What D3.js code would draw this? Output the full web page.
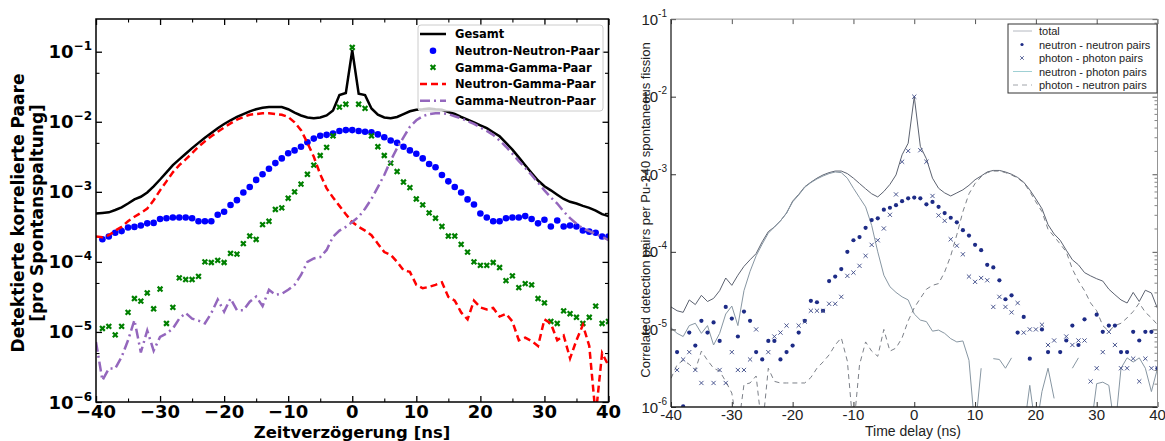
<!DOCTYPE html>
<html>
<head>
<meta charset="utf-8">
<script src="https://cdn.jsdelivr.net/npm/d3@7"></script>
<style>
  body { margin: 0; background: #fff; }
  svg { display: block; }
</style>
</head>
<body>
<svg id="chart" width="1165" height="441"></svg>
<script>
// Zeitverzoegerung in ns, ein Wert pro ns
var zeit = [-40,-39,-38,-37,-36,-35,-34,-33,-32,-31,-30,-29,-28,-27,-26,-25,-24,-23,-22,-21,
            -20,-19,-18,-17,-16,-15,-14,-13,-12,-11,-10,-9,-8,-7,-6,-5,-4,-3,-2,-1,0,
            1,2,3,4,5,6,7,8,9,10,11,12,13,14,15,16,17,18,19,20,
            21,22,23,24,25,26,27,28,29,30,31,32,33,34,35,36,37,38,39,40];

/*  L I N K E   G R A F I K  (pro Spontanspaltung)  */
var gesamt = [4.9e-4,5.0e-4,5.1e-4,5.5e-4,6.0e-4,6.8e-4,7.8e-4,8.5e-4,9.8e-4,1.2e-3,
  1.5e-3,1.9e-3,2.4e-3,2.9e-3,3.5e-3,4.2e-3,5.0e-3,5.9e-3,6.9e-3,8.1e-3,
  9.3e-3,1.05e-2,1.17e-2,1.29e-2,1.41e-2,1.51e-2,1.58e-2,1.62e-2,1.62e-2,1.62e-2,
  1.51e-2,1.35e-2,1.23e-2,1.15e-2,1.12e-2,1.15e-2,1.23e-2,1.45e-2,2.4e-2,2.57e-2,
  1.05e-1,
  2.51e-2,2.4e-2,1.55e-2,1.26e-2,1.15e-2,1.12e-2,1.17e-2,1.29e-2,1.41e-2,1.48e-2,
  1.51e-2,1.55e-2,1.51e-2,1.48e-2,1.38e-2,1.29e-2,1.17e-2,1.07e-2,9.8e-3,8.9e-3,
  8.1e-3,7.1e-3,6.2e-3,5.0e-3,4.0e-3,3.1e-3,2.4e-3,1.86e-3,1.45e-3,1.2e-3,
  1.05e-3,9.1e-4,7.9e-4,7.2e-4,6.8e-4,6.3e-4,5.9e-4,5.4e-4,4.8e-4,4.5e-4];

var nnPaar = [null,2.1e-4,2.3e-4,2.6e-4,2.75e-4,3.1e-4,3.16e-4,3.3e-4,3.55e-4,3.6e-4,
  4.1e-4,4.2e-4,4.3e-4,4.3e-4,4.3e-4,4.2e-4,3.8e-4,3.8e-4,3.8e-4,4.7e-4,
  5.2e-4,6.5e-4,7.6e-4,9.8e-4,1.17e-3,1.48e-3,1.78e-3,2.14e-3,2.57e-3,3.0e-3,
  3.55e-3,3.9e-3,4.4e-3,5.1e-3,5.75e-3,6.3e-3,6.5e-3,6.8e-3,7.4e-3,7.6e-3,
  7.6e-3,
  7.4e-3,7.2e-3,7.1e-3,6.6e-3,6.0e-3,5.4e-3,5.0e-3,4.4e-3,3.9e-3,3.5e-3,
  3.0e-3,2.5e-3,2.24e-3,1.74e-3,1.41e-3,1.17e-3,9.8e-4,7.8e-4,6.6e-4,4.9e-4,
  4.3e-4,3.8e-4,3.8e-4,4.2e-4,4.3e-4,4.3e-4,4.5e-4,4.1e-4,3.55e-4,4.0e-4,
  3.2e-4,3.9e-4,3.2e-4,3.3e-4,3.2e-4,2.8e-4,2.7e-4,2.6e-4,2.3e-4,2.3e-4];

var ggPaar = [null,1.12e-5,1.2e-5,9.1e-6,1.2e-5,1.9e-5,3.0e-5,2.75e-5,3.6e-5,2.14e-5,
  4.1e-5,1.32e-5,2.24e-5,5.9e-5,5.6e-5,5.6e-5,6.2e-5,1.0e-4,9.8e-5,1.05e-4,
  9.8e-5,1.32e-4,1.29e-4,1.82e-4,2.34e-4,2.09e-4,3.4e-4,3.8e-4,5.6e-4,5.9e-4,
  8.1e-4,1.0e-3,1.29e-3,1.78e-3,2.4e-3,3.3e-3,4.3e-3,6.3e-3,1.62e-2,1.78e-2,
  1.15e-1,
  1.78e-2,1.55e-2,6.3e-3,4.4e-3,3.3e-3,2.57e-3,1.95e-3,1.38e-3,1.15e-3,7.9e-4,
  6.5e-4,5.0e-4,4.2e-4,3.2e-4,2.34e-4,2.34e-4,1.78e-4,1.38e-4,1.0e-4,8.9e-5,
  8.9e-5,9.8e-5,8.3e-5,5.4e-5,6.3e-5,4.3e-5,4.9e-5,4.7e-5,3.0e-5,2.6e-5,
  1.41e-5,1.32e-5,2.0e-5,1.82e-5,1.62e-5,1.32e-5,1.62e-5,2.34e-5,1.32e-5,1.41e-5];

var ngPaar = [2.3e-4,2.24e-4,2.4e-4,2.8e-4,3.16e-4,3.8e-4,4.4e-4,5.0e-4,5.75e-4,7.6e-4,
  1.05e-3,1.41e-3,1.9e-3,2.4e-3,2.9e-3,3.55e-3,4.4e-3,5.25e-3,6.2e-3,7.2e-3,
  8.3e-3,9.5e-3,1.07e-2,1.17e-2,1.26e-2,1.29e-2,1.32e-2,1.32e-2,1.29e-2,1.26e-2,
  1.17e-2,9.8e-3,7.6e-3,5.0e-3,3.16e-3,1.78e-3,1.12e-3,8.3e-4,6.3e-4,4.8e-4,
  3.7e-4,
  3.16e-4,2.8e-4,2.4e-4,1.82e-4,1.38e-4,1.26e-4,1.0e-4,7.6e-5,7.2e-5,4.7e-5,
  4.2e-5,4.4e-5,4.7e-5,5.1e-5,3.16e-5,2.8e-5,1.9e-5,1.51e-5,2.8e-5,2.24e-5,
  2.1e-5,2.2e-5,1.66e-5,1.82e-5,1.41e-5,7.6e-6,8.3e-6,7.4e-6,6.3e-6,1.51e-5,
  1.32e-5,7.6e-6,8.9e-6,4.2e-6,7.6e-6,1.26e-5,6.3e-6,6.3e-7,5.0e-6,3.3e-6];

var gnPaar = [7.2e-6,2.04e-6,3.0e-6,3.0e-6,4.4e-6,7.6e-6,1.48e-5,5.1e-6,1.05e-5,5.4e-6,
  8.5e-6,9.5e-6,1.12e-5,1.55e-5,1.86e-5,1.55e-5,1.45e-5,1.32e-5,1.86e-5,2.9e-5,
  1.95e-5,3.0e-5,2.04e-5,2.04e-5,2.7e-5,3.2e-5,2.34e-5,4.0e-5,3.4e-5,3.5e-5,
  4.0e-5,4.7e-5,6.5e-5,1.0e-4,1.12e-4,1.17e-4,1.48e-4,2.29e-4,2.8e-4,3.16e-4,
  3.7e-4,
  4.4e-4,5.75e-4,7.9e-4,1.17e-3,1.74e-3,2.8e-3,4.2e-3,6.0e-3,8.5e-3,1.05e-2,
  1.2e-2,1.29e-2,1.32e-2,1.32e-2,1.29e-2,1.2e-2,1.12e-2,1.02e-2,9.3e-3,8.3e-3,
  7.4e-3,6.5e-3,5.4e-3,4.4e-3,3.5e-3,2.75e-3,2.19e-3,1.74e-3,1.35e-3,1.05e-3,
  8.3e-4,6.8e-4,5.25e-4,4.2e-4,3.5e-4,3.0e-4,2.75e-4,2.5e-4,2.29e-4,2.04e-4];

/*  R E C H T E   G R A F I K  (Scan, Pu-240)  */
var total = [1.95e-5,1.74e-5,1.66e-5,2.4e-5,2.09e-5,2.75e-5,2.29e-5,2.51e-5,3.16e-5,4.6e-5,
  3.7e-5,5.0e-5,6.5e-5,7.9e-5,9.5e-5,1.35e-4,1.82e-4,2.09e-4,2.51e-4,3.16e-4,
  4.5e-4,5.5e-4,6.9e-4,7.9e-4,8.9e-4,9.8e-4,1.05e-3,1.1e-3,1.1e-3,1.02e-3,
  8.9e-4,7.6e-4,6.5e-4,5.6e-4,5.1e-4,6.0e-4,7.4e-4,9.8e-4,1.78e-3,2.51e-3,
  1.0e-2,
  2.29e-3,1.58e-3,8.9e-4,6.6e-4,5.75e-4,5.25e-4,5.75e-4,6.3e-4,7.2e-4,8.5e-4,
  9.5e-4,1.07e-3,1.12e-3,1.12e-3,1.07e-3,1.0e-3,9.1e-4,7.9e-4,6.3e-4,4.8e-4,
  3.6e-4,2.24e-4,1.7e-4,1.41e-4,1.05e-4,7.9e-5,6.8e-5,5.4e-5,4.9e-5,4.5e-5,
  4.2e-5,3.3e-5,2.8e-5,2.4e-5,2.19e-5,3.0e-5,2.29e-5,3.2e-5,2.95e-5,1.86e-5];

var nnPairs = [null,5.1e-6,1.02e-6,9.1e-6,6.2e-6,1.29e-5,9.1e-6,1.23e-5,7.1e-6,1.95e-5,
  1.38e-5,8.1e-6,1.7e-5,1.29e-5,5.1e-6,4.1e-6,7.1e-6,7.1e-6,4.1e-6,5.1e-6,
  6.2e-6,9.1e-6,1.29e-5,2.34e-5,2.24e-5,1.74e-5,4.2e-5,4.8e-5,6.0e-5,1.0e-4,
  1.41e-4,1.55e-4,2.04e-4,2.57e-4,2.7e-4,3.5e-4,3.7e-4,4.0e-4,4.5e-4,4.9e-4,
  5.0e-4,
  4.9e-4,4.1e-4,4.4e-4,3.8e-4,3.16e-4,2.75e-4,2.4e-4,1.9e-4,1.62e-4,1.23e-4,
  1.05e-4,6.8e-5,6.3e-5,4.3e-5,2.45e-5,2.75e-5,9.1e-6,1.45e-5,4.2e-6,null,
  1.0e-5,5.1e-6,null,5.1e-6,7.2e-6,1.12e-5,6.3e-6,1.35e-5,null,1.55e-5,
  9.3e-6,1.12e-5,1.12e-5,5.1e-6,5.1e-6,9.3e-6,7.2e-6,9.3e-6,9.3e-6,3.16e-6];

var ppPairs = [null,3.0e-6,4.1e-6,5.1e-6,3.0e-6,2.04e-6,null,2.04e-6,3.0e-6,2.04e-6,
  5.1e-6,3.0e-6,3.0e-6,4.1e-6,1.0e-5,null,5.1e-6,8.1e-6,9.1e-6,1.12e-5,
  null,1.12e-5,1.26e-5,1.74e-5,1.74e-5,1.74e-5,2.14e-5,2.14e-5,2.63e-5,4.9e-5,
  5.4e-5,6.6e-5,8.9e-5,1.23e-4,1.41e-4,2.0e-4,3.0e-4,5.5e-4,1.45e-3,2.0e-3,
  1.0e-2,
  2.04e-3,1.45e-3,5.25e-4,2.95e-4,2.51e-4,1.45e-4,1.2e-4,9.3e-5,4.8e-5,4.1e-5,
  4.6e-5,4.3e-5,1.95e-5,2.63e-5,1.95e-5,1.66e-5,2.19e-5,9.1e-6,1.0e-5,1.0e-5,
  1.15e-5,6.3e-6,7.2e-6,null,8.1e-6,6.3e-6,7.2e-6,7.2e-6,2.14e-6,3.16e-6,
  5.1e-6,9.3e-6,6.3e-6,3.16e-6,3.16e-6,4.2e-6,2.14e-6,4.2e-6,3.16e-6,3.16e-6];

var npPairs = [1.05e-5,8.9e-6,8.1e-6,1.12e-5,1.2e-5,8.9e-6,1.12e-5,6.3e-6,8.9e-6,1.58e-5,
  2.0e-5,1.12e-5,3.16e-5,5.6e-5,8.9e-5,1.26e-4,1.74e-4,2.09e-4,2.51e-4,3.16e-4,
  4.4e-4,5.4e-4,6.8e-4,7.8e-4,8.7e-4,9.5e-4,1.02e-3,1.07e-3,1.05e-3,8.9e-4,
  6.6e-4,5.0e-4,3.8e-4,2.19e-4,1.0e-4,5.0e-5,3.55e-5,3.0e-5,2.63e-5,2.4e-5,
  1.58e-5,
  1.32e-5,1.26e-5,9.5e-6,9.8e-6,8.9e-6,7.6e-6,6.9e-6,7.1e-6,4.0e-6,5.0e-7,
  3.16e-6,null,4.2e-6,4.1e-6,3.16e-6,4.3e-6,null,5.0e-7,1.9e-6,5.0e-7,
  1.58e-6,3.16e-6,1.29e-6,null,null,3.16e-6,4.3e-6,null,5.0e-7,2.0e-6,
  2.09e-6,1.9e-6,5.0e-7,3.16e-6,4.3e-6,3.8e-6,4.3e-6,3.16e-6,1.58e-6,3.16e-6];

var pnPairs = [2.34e-6,3.5e-6,4.0e-6,3.55e-6,3.0e-6,5.25e-6,4.0e-6,3.16e-6,2.9e-6,2.14e-6,
  1.51e-6,5.0e-7,1.95e-6,2.04e-6,2.51e-6,5.0e-7,3.16e-6,2.14e-6,2.04e-6,2.04e-6,
  2.04e-6,2.04e-6,2.04e-6,2.4e-6,3.16e-6,3.8e-6,4.7e-6,6.3e-6,7.8e-6,3.9e-6,
  5.0e-7,3.5e-6,6.9e-6,5.25e-6,4.5e-6,1.0e-5,5.25e-6,5.75e-6,7.8e-6,1.29e-5,
  1.9e-5,
  2.51e-5,3.3e-5,3.7e-5,3.9e-5,5.5e-5,8.9e-5,1.66e-4,3.3e-4,5.6e-4,7.6e-4,
  9.3e-4,1.05e-3,1.1e-3,1.1e-3,1.05e-3,9.8e-4,8.9e-4,7.8e-4,6.0e-4,4.4e-4,
  3.3e-4,1.95e-4,1.58e-4,1.26e-4,1.0e-4,6.0e-5,4.2e-5,3.16e-5,2.19e-5,1.74e-5,
  1.12e-5,9.5e-6,1.12e-5,1.2e-5,1.41e-5,1.7e-5,2.19e-5,1.66e-5,1.41e-5,1.15e-5];

// Achsen
var xTicks = [-40,-30,-20,-10,0,10,20,30,40];
var xMinor = [-35,-25,-15,-5,5,15,25,35];
var yTicks = [1e-1,1e-2,1e-3,1e-4,1e-5,1e-6];
var yMinorL = [5e-2,5e-3,5e-4,5e-5,5e-6];
var yExpL = ['\u22121','\u22122','\u22123','\u22124','\u22125','\u22126'];
var yExpR = ['-1','-2','-3','-4','-5','-6'];
var legendL = ['Gesamt','Neutron-Neutron-Paar','Gamma-Gamma-Paar','Neutron-Gamma-Paar','Gamma-Neutron-Paar'];
var legendR = ['total','neutron - neutron pairs','photon - photon pairs','neutron - photon pairs','photon - neutron pairs'];

var svg = d3.select('#chart');
var boldFont = '"DejaVu Sans", sans-serif';
var scanFont = '"Liberation Sans", Arial, sans-serif';

// ticks nach innen, ohne Beschriftung (die kommt extra)
function tickGroup(parent, axis, tx, ty, vals, size, color, width) {
  var g = parent.append('g')
      .attr('transform', 'translate(' + tx + ',' + ty + ')')
      .call(axis.tickValues(vals).tickSize(size).tickSizeOuter(0).tickFormat(''));
  g.select('.domain').remove();
  g.selectAll('.tick text').remove();
  g.selectAll('.tick line').attr('stroke', color).attr('stroke-width', width);
  return g;
}

function xMark(s) {
  return 'M' + (-s) + ',' + (-s) + 'L' + s + ',' + s + 'M' + (-s) + ',' + s + 'L' + s + ',' + (-s);
}

/**  L I N K S  */
var L = { left: 96, right: 608.5, top: 19, bottom: 402 };
var xL = d3.scaleLinear().domain([-40, 40]).range([L.left, L.right]);
var yL = d3.scaleLog().domain([1e-6, 0.293]).range([L.bottom, L.top]);

svg.append('clipPath').attr('id', 'clipL')
  .append('rect').attr('x', L.left).attr('y', L.top)
  .attr('width', L.right - L.left).attr('height', L.bottom - L.top);

var lineL = d3.line()
  .defined(function(d) { return d != null; })
  .x(function(d, i) { return xL(zeit[i]); })
  .y(function(d) { return yL(d); });

var plotL = svg.append('g').attr('clip-path', 'url(#clipL)');

plotL.append('path').attr('d', lineL(gesamt))
  .attr('fill', 'none').attr('stroke', '#000').attr('stroke-width', 2.5);

nnPaar.forEach(function(d, i) {
  if (d == null) return;
  plotL.append('circle').attr('cx', xL(zeit[i])).attr('cy', yL(d))
    .attr('r', 3.3).attr('fill', '#0000ff');
});

ggPaar.forEach(function(d, i) {
  if (d == null) return;
  plotL.append('path').attr('d', xMark(2.4))
    .attr('transform', 'translate(' + xL(zeit[i]) + ',' + yL(d) + ')')
    .attr('stroke', '#008000').attr('stroke-width', 2.2).attr('fill', 'none');
});

plotL.append('path').attr('d', lineL(ngPaar))
  .attr('fill', 'none').attr('stroke', '#ff0000').attr('stroke-width', 2.5)
  .attr('stroke-dasharray', '7,4');

plotL.append('path').attr('d', lineL(gnPaar))
  .attr('fill', 'none').attr('stroke', '#9467bd').attr('stroke-width', 2.5)
  .attr('stroke-dasharray', '10,4,2,4');

var axL = svg.append('g');
tickGroup(axL, d3.axisBottom(xL), 0, L.bottom, xTicks, -6, '#000', 1.3);
tickGroup(axL, d3.axisBottom(xL), 0, L.bottom, xMinor, -3.5, '#000', 1.1);
tickGroup(axL, d3.axisTop(xL), 0, L.top, xTicks, -6, '#000', 1.3);
tickGroup(axL, d3.axisTop(xL), 0, L.top, xMinor, -3.5, '#000', 1.1);
tickGroup(axL, d3.axisLeft(yL), L.left, 0, yTicks, -6, '#000', 1.3);
tickGroup(axL, d3.axisLeft(yL), L.left, 0, yMinorL, -3.5, '#000', 1.1);
tickGroup(axL, d3.axisRight(yL), L.right, 0, yTicks, -6, '#000', 1.3);
tickGroup(axL, d3.axisRight(yL), L.right, 0, yMinorL, -3.5, '#000', 1.1);

svg.append('rect').attr('x', L.left).attr('y', L.top)
  .attr('width', L.right - L.left).attr('height', L.bottom - L.top)
  .attr('fill', 'none').attr('stroke', '#000').attr('stroke-width', 1.5);

svg.selectAll('.xlabL').data(xTicks).enter().append('text')
  .attr('x', function(d) { return xL(d); }).attr('y', 417.5)
  .attr('text-anchor', 'middle')
  .style('font-family', boldFont).style('font-weight', 'bold').style('font-size', '18px')
  .text(function(d) { return d < 0 ? '\u2212' + Math.abs(d) : d; });

svg.selectAll('.ylabL').data(yTicks).enter().append('text')
  .attr('x', 92).attr('y', function(d) { return yL(d) + 6.5; })
  .attr('text-anchor', 'end')
  .style('font-family', boldFont).style('font-weight', 'bold').style('font-size', '18px')
  .each(function(d, i) {
    var t = d3.select(this);
    t.append('tspan').text('10');
    t.append('tspan').attr('dy', -8).style('font-size', '12px').text(yExpL[i]);
  });

svg.append('text').attr('x', 352).attr('y', 437.5).attr('text-anchor', 'middle')
  .style('font-family', boldFont).style('font-weight', 'bold').style('font-size', '16.5px')
  .text('Zeitverzögerung [ns]');

svg.append('text').attr('transform', 'translate(24,213) rotate(-90)').attr('text-anchor', 'middle')
  .style('font-family', boldFont).style('font-weight', 'bold').style('font-size', '17px')
  .text('Detektierte korrelierte Paare');
svg.append('text').attr('transform', 'translate(43,213) rotate(-90)').attr('text-anchor', 'middle')
  .style('font-family', boldFont).style('font-weight', 'bold').style('font-size', '17px')
  .text('[pro Spontanspaltung]');

// Legende links
var legL = svg.append('g');
legL.append('rect').attr('x', 418).attr('y', 25).attr('width', 185).attr('height', 86).attr('rx', 3)
  .attr('fill', '#fff').attr('fill-opacity', 0.8).attr('stroke', '#ccc').attr('stroke-width', 1);
legendL.forEach(function(name, i) {
  var y = 34 + i * 16.7;
  if (i == 0) legL.append('line').attr('x1', 420).attr('x2', 446).attr('y1', y).attr('y2', y)
    .attr('stroke', '#000').attr('stroke-width', 2.5);
  if (i == 1) legL.append('circle').attr('cx', 433).attr('cy', y).attr('r', 3.3).attr('fill', '#0000ff');
  if (i == 2) legL.append('path').attr('d', xMark(2.4)).attr('transform', 'translate(433,' + y + ')')
    .attr('stroke', '#008000').attr('stroke-width', 2.2);
  if (i == 3) legL.append('line').attr('x1', 420).attr('x2', 446).attr('y1', y).attr('y2', y)
    .attr('stroke', '#ff0000').attr('stroke-width', 2.5).attr('stroke-dasharray', '7,4');
  if (i == 4) legL.append('line').attr('x1', 420).attr('x2', 446).attr('y1', y).attr('y2', y)
    .attr('stroke', '#9467bd').attr('stroke-width', 2.5).attr('stroke-dasharray', '10,4,2,4');
  legL.append('text').attr('x', 455).attr('y', y + 4.2)
    .style('font-family', boldFont).style('font-weight', 'bold').style('font-size', '11.5px')
    .text(name);
});

/**  R E C H T S  (Scan)  */
var R = { left: 671, right: 1157.5, top: 19.1, bottom: 407 };
var xR = d3.scaleLinear().domain([-40, 40]).range([R.left, R.right]);
var yR = d3.scaleLog().domain([1e-6, 1e-1]).range([R.bottom, R.top]);

svg.append('clipPath').attr('id', 'clipR')
  .append('rect').attr('x', R.left).attr('y', R.top)
  .attr('width', R.right - R.left).attr('height', R.bottom - R.top);

var lineR = d3.line()
  .defined(function(d) { return d != null; })
  .x(function(d, i) { return xR(zeit[i]); })
  .y(function(d) { return yR(d); });

var plotR = svg.append('g').attr('clip-path', 'url(#clipR)');

plotR.append('path').attr('d', lineR(total))
  .attr('fill', 'none').attr('stroke', '#5c6270').attr('stroke-width', 1);
plotR.append('path').attr('d', lineR(npPairs))
  .attr('fill', 'none').attr('stroke', '#8796a2').attr('stroke-width', 1);
plotR.append('path').attr('d', lineR(pnPairs))
  .attr('fill', 'none').attr('stroke', '#7c8088').attr('stroke-width', 1)
  .attr('stroke-dasharray', '5,4');

nnPairs.forEach(function(d, i) {
  if (d == null) return;
  plotR.append('circle').attr('cx', xR(zeit[i])).attr('cy', yR(d))
    .attr('r', 2.1).attr('fill', '#1d2b86');
});
ppPairs.forEach(function(d, i) {
  if (d == null) return;
  plotR.append('path').attr('d', xMark(2.1))
    .attr('transform', 'translate(' + xR(zeit[i]) + ',' + yR(d) + ')')
    .attr('stroke', '#3a4786').attr('stroke-width', 0.9).attr('fill', 'none');
});

var axR = svg.append('g');
var yMinorR = yR.ticks().filter(function(v) { return yTicks.indexOf(v) < 0; });
tickGroup(axR, d3.axisBottom(xR), 0, R.bottom, xTicks, -5, '#333', 1);
tickGroup(axR, d3.axisTop(xR), 0, R.top, xTicks, -5, '#555', 1);
tickGroup(axR, d3.axisLeft(yR), R.left, 0, yTicks, -5, '#333', 1);
tickGroup(axR, d3.axisRight(yR), R.right, 0, yTicks, -5, '#555', 1);
tickGroup(axR, d3.axisRight(yR), R.right, 0, yMinorR, -3, '#666', 0.8);

axR.append('line').attr('x1', R.left).attr('x2', R.left).attr('y1', R.top).attr('y2', R.bottom)
  .attr('stroke', '#222').attr('stroke-width', 1.3);
axR.append('line').attr('x1', R.left).attr('x2', R.right).attr('y1', R.bottom).attr('y2', R.bottom)
  .attr('stroke', '#222').attr('stroke-width', 1.3);
axR.append('line').attr('x1', R.left).attr('x2', R.right).attr('y1', R.top).attr('y2', R.top)
  .attr('stroke', '#888').attr('stroke-width', 0.9);
axR.append('line').attr('x1', R.right).attr('x2', R.right).attr('y1', R.top).attr('y2', R.bottom)
  .attr('stroke', '#888').attr('stroke-width', 0.9);

svg.selectAll('.xlabR').data(xTicks).enter().append('text')
  .attr('x', function(d) { return xR(d); }).attr('y', 420)
  .attr('text-anchor', 'middle')
  .style('font-family', scanFont).style('font-size', '15px').attr('fill', '#222')
  .text(function(d) { return d; });

svg.selectAll('.ylabR').data(yTicks).enter().append('text')
  .attr('x', 667).attr('y', function(d) { return yR(d) + 5.5; })
  .attr('text-anchor', 'end')
  .style('font-family', scanFont).style('font-size', '15px').attr('fill', '#222')
  .each(function(d, i) {
    var t = d3.select(this);
    t.append('tspan').text('10');
    t.append('tspan').attr('dy', -8).style('font-size', '10px').text(yExpR[i]);
  });

svg.append('text').attr('x', 913).attr('y', 436).attr('text-anchor', 'middle')
  .style('font-family', scanFont).style('font-size', '14px').attr('fill', '#222')
  .text('Time delay (ns)');

svg.append('text').attr('transform', 'translate(650,210) rotate(-90)').attr('text-anchor', 'middle')
  .style('font-family', scanFont).style('font-size', '13px').attr('fill', '#222')
  .text('Correlated detection pairs per Pu-240 spontaneous fission');

// Legende rechts
var legR = svg.append('g');
legR.append('rect').attr('x', 1008).attr('y', 24).attr('width', 149).attr('height', 69)
  .attr('fill', '#fff').attr('stroke', '#333').attr('stroke-width', 1);
legendR.forEach(function(name, i) {
  var y = 31 + i * 13.5;
  if (i == 0) legR.append('line').attr('x1', 1013).attr('x2', 1032).attr('y1', y).attr('y2', y)
    .attr('stroke', '#b4b8c0').attr('stroke-width', 1);
  if (i == 1) legR.append('circle').attr('cx', 1022).attr('cy', y).attr('r', 1.6).attr('fill', '#1d2b86');
  if (i == 2) legR.append('path').attr('d', xMark(1.8)).attr('transform', 'translate(1022,' + y + ')')
    .attr('stroke', '#3a4786').attr('stroke-width', 0.8);
  if (i == 3) legR.append('line').attr('x1', 1013).attr('x2', 1032).attr('y1', y).attr('y2', y)
    .attr('stroke', '#9fd0d4').attr('stroke-width', 1);
  if (i == 4) legR.append('line').attr('x1', 1013).attr('x2', 1032).attr('y1', y).attr('y2', y)
    .attr('stroke', '#a0a4aa').attr('stroke-width', 1).attr('stroke-dasharray', '5,4');
  legR.append('text').attr('x', 1039).attr('y', y + 4)
    .style('font-family', scanFont).style('font-size', '11px').attr('fill', '#222')
    .text(name);
});
</script>
</body>
</html>
